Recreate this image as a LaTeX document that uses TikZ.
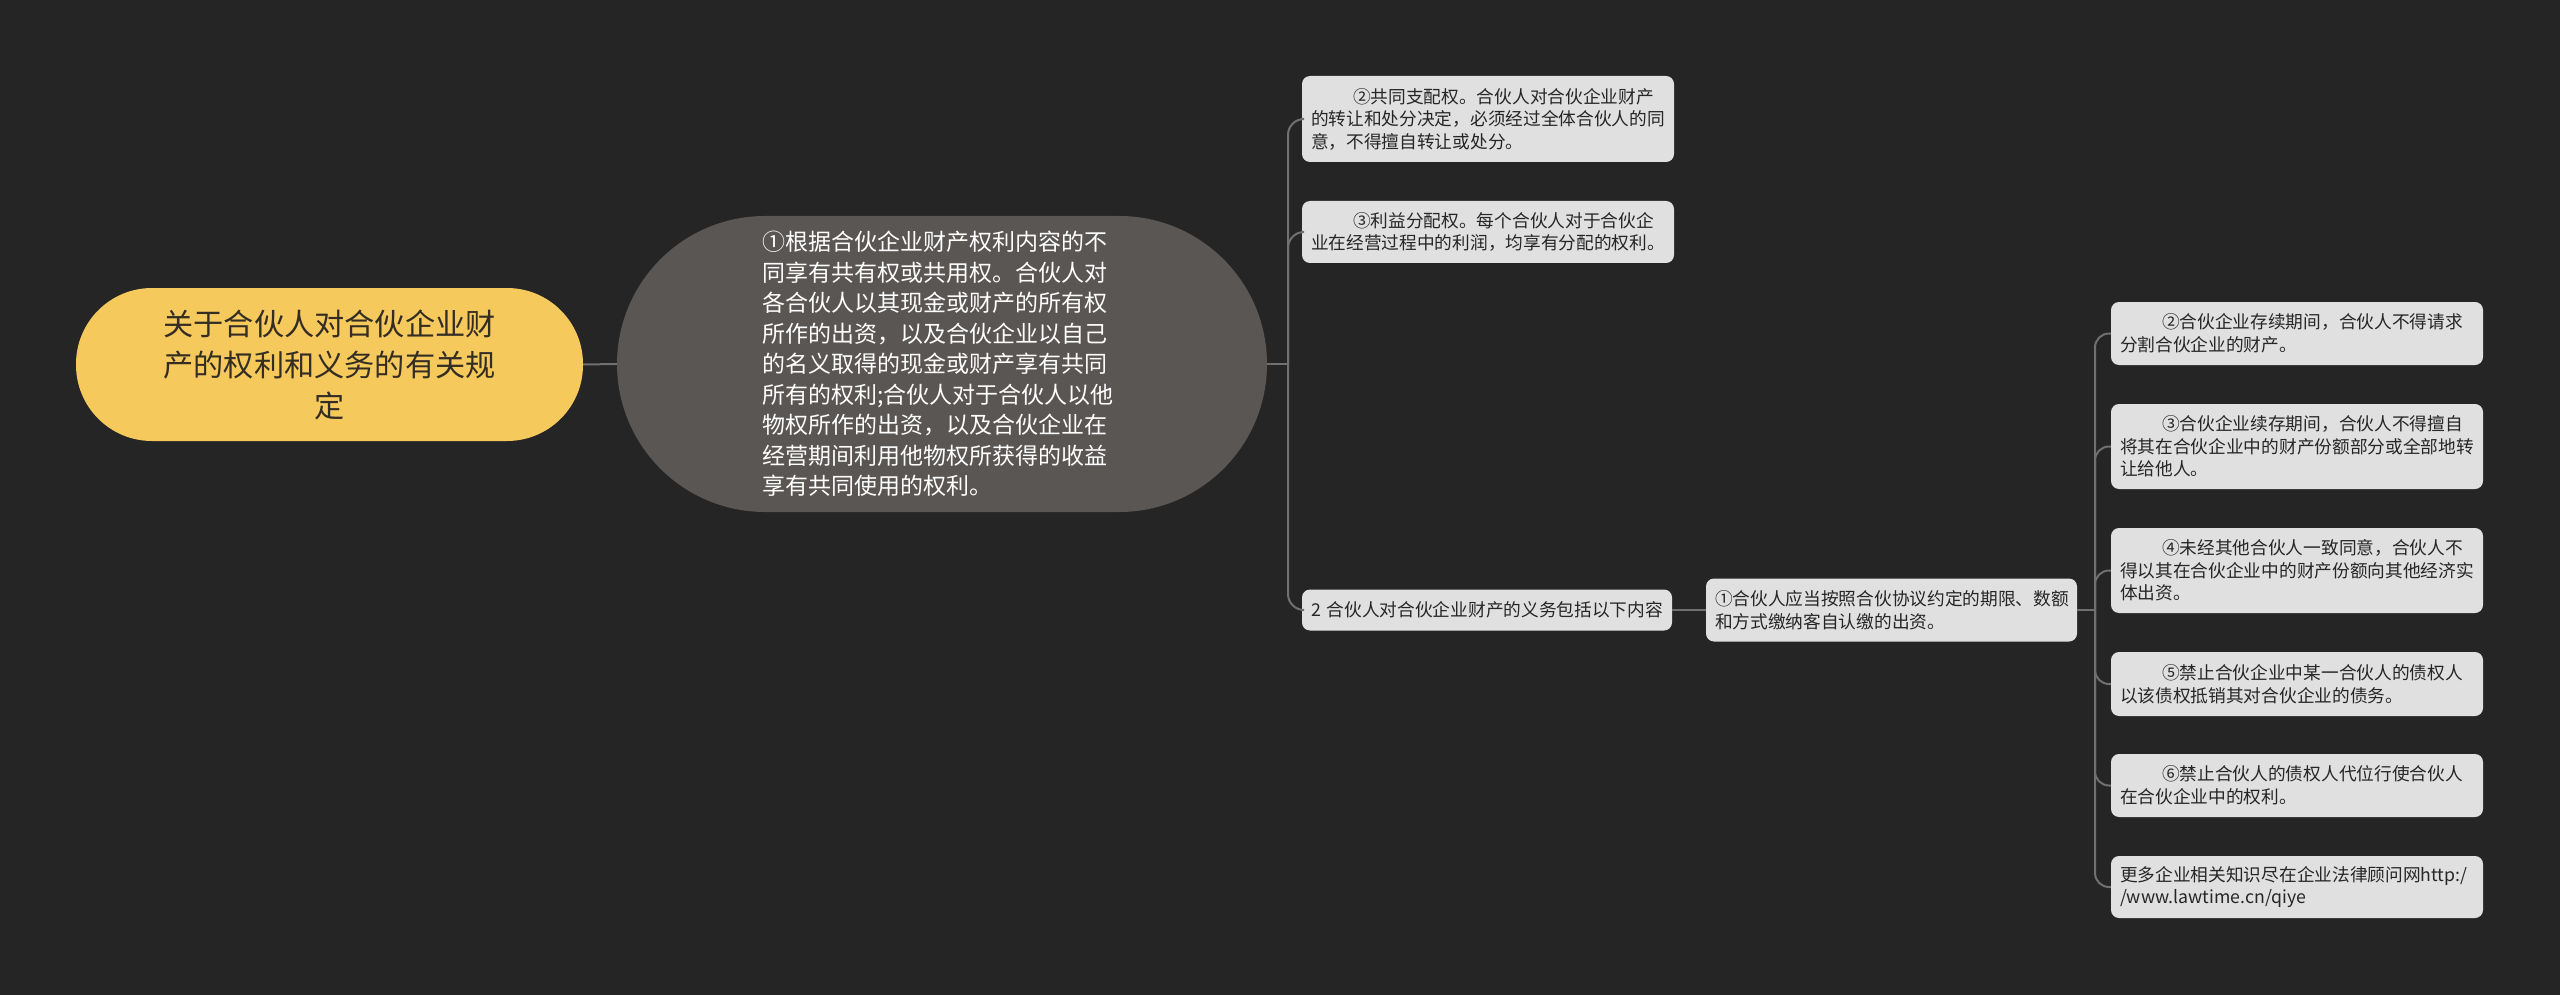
\documentclass[tikz,border=0pt]{standalone}
\usepackage{fontspec}
\newfontfamily\cjk{Noto Sans CJK SC}
\definecolor{bg}{RGB}{37,37,37}
\definecolor{rootfill}{RGB}{245,201,92}
\definecolor{roottext}{RGB}{51,45,35}
\definecolor{pillfill}{RGB}{90,86,84}
\definecolor{boxfill}{RGB}{224,224,224}
\definecolor{boxtext}{RGB}{38,38,38}
\definecolor{conncol}{RGB}{112,112,112}
\tikzset{
  rootbox/.style={rectangle, fill=rootfill, rounded corners=76pt, minimum width=507pt, minimum height=153pt,
    align=center, text=roottext, inner sep=0pt, font=\cjk\fontsize{30.2}{41}\selectfont},
  pillbox/.style={rectangle, fill=pillfill, rounded corners=148pt, minimum width=650pt, minimum height=296pt,
    align=left, text width=360pt, text=white, inner sep=0pt, font=\cjk\fontsize{23}{30.5}\selectfont},
  lbox/.style={rectangle, fill=boxfill, rounded corners=8pt, align=left, text width=354pt,
    inner xsep=9pt, inner ysep=0pt, text=boxtext, font=\cjk\fontsize{17.7}{22.5}\selectfont},
  conn/.style={draw=conncol, line width=2pt},
}
\begin{document}
\begin{tikzpicture}[x=1pt,y=-1pt]
\useasboundingbox (0,0) rectangle (2560,995);
\fill[bg] (0,0) rectangle (2560,995);

\node[rootbox] (root) at (329.5,364.5) {关于合伙人对合伙企业财\\产的权利和义务的有关规\\定};
\node[pillbox] (pill) at (942,364) {①根据合伙企业财产权利内容的不\\同享有共有权或共用权。合伙人对\\各合伙人以其现金或财产的所有权\\所作的出资，以及合伙企业以自己\\的名义取得的现金或财产享有共同\\所有的权利;合伙人对于合伙人以他\\物权所作的出资，以及合伙企业在\\经营期间利用他物权所获得的收益\\享有共同使用的权利。};

\node[lbox, minimum height=86pt] (A) at (1488,119) {\hspace*{42pt}②共同支配权。合伙人对合伙企业财产\\的转让和处分决定，必须经过全体合伙人的同\\意，不得擅自转让或处分。};
\node[lbox, minimum height=62pt] (B) at (1488,232) {\hspace*{42pt}③利益分配权。每个合伙人对于合伙企\\业在经营过程中的利润，均享有分配的权利。};
\node[lbox, minimum height=41pt, text width=352pt] (C) at (1487,610) {2 合伙人对合伙企业财产的义务包括以下内容};
\node[lbox, minimum height=63pt, text width=353pt] (D) at (1891.5,610) {①合伙人应当按照合伙协议约定的期限、数额\\和方式缴纳客自认缴的出资。};

\node[lbox, minimum height=63pt] (G1) at (2297,333.5) {\hspace*{42pt}②合伙企业存续期间，合伙人不得请求\\分割合伙企业的财产。};
\node[lbox, minimum height=85pt] (G2) at (2297,446.5) {\hspace*{42pt}③合伙企业续存期间，合伙人不得擅自\\将其在合伙企业中的财产份额部分或全部地转\\让给他人。};
\node[lbox, minimum height=85pt] (G3) at (2297,570.5) {\hspace*{42pt}④未经其他合伙人一致同意，合伙人不\\得以其在合伙企业中的财产份额向其他经济实\\体出资。};
\node[lbox, minimum height=64pt] (G4) at (2297,684) {\hspace*{42pt}⑤禁止合伙企业中某一合伙人的债权人\\以该债权抵销其对合伙企业的债务。};
\node[lbox, minimum height=63pt] (G5) at (2297,785.5) {\hspace*{42pt}⑥禁止合伙人的债权人代位行使合伙人\\在合伙企业中的权利。};
\node[lbox, minimum height=62pt] (G6) at (2297,887) {更多企业相关知识尽在企业法律顾问网http:/\\/www.lawtime.cn/qiye};

\coordinate (b1) at (1288,364);
\coordinate (b2) at (2095,610);

\draw[conn] (root.east) -- (pill.west);
\draw[conn] (pill.east) -- (b1);
\draw[conn, rounded corners=16pt] (b1) |- (A.west);
\draw[conn, rounded corners=16pt] (b1) |- (B.west);
\draw[conn, rounded corners=16pt] (b1) |- (C.west);
\draw[conn] (C.east) -- (D.west);
\draw[conn] (D.east) -- (b2);
\foreach \g in {G1,G2,G3,G4,G5,G6}{
  \draw[conn, rounded corners=14pt] (b2) |- (\g.west);
}
\end{tikzpicture}
\end{document}
